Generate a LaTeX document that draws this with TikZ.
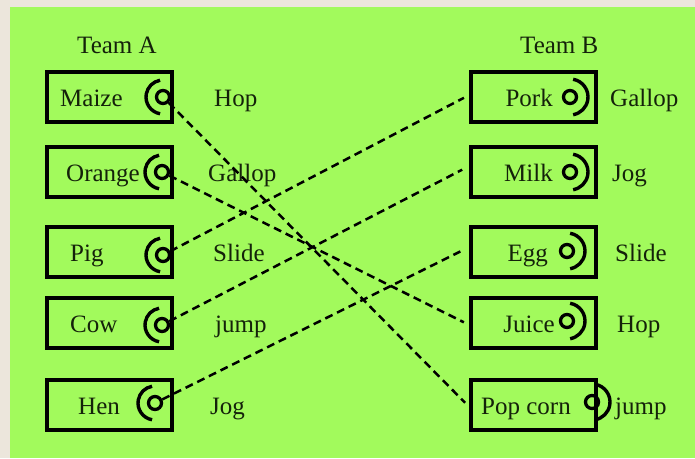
\documentclass[tikz,border=0pt]{standalone}
\usepackage{fontspec}
\setmainfont{Liberation Serif}
\definecolor{bgc}{RGB}{236,230,220}
\definecolor{grn}{RGB}{162,250,92}
\definecolor{ink}{RGB}{20,34,10}
\tikzset{
  box/.style={draw=black, line width=3.4pt, minimum width=125pt, minimum height=50pt, inner sep=0pt},
  txt/.style={text=ink, font=\fontsize{25}{28}\selectfont, inner sep=0pt},
  ring/.style={circle, draw=black, line width=3.3pt, minimum size=13pt, inner sep=0pt},
  bow/.style={draw=black, line width=3.4pt},
  link/.style={draw=black, line width=2.5pt, dash pattern=on 8pt off 5pt},
}
\begin{document}
\begin{tikzpicture}[x=1pt,y=-1pt]
\fill[bgc] (0,0) rectangle (695,458);
\fill[grn] (10,7) rectangle (695,458);
\useasboundingbox (0,0) rectangle (695,458);

% headers
\node[txt, anchor=base west] (hA) at (77,53) {Team A};
\node[txt, anchor=base west] (hB) at (520,53) {Team B};

% left boxes
\node[box] (a1) at (109.5,97) {};
\node[box] (a2) at (109.5,172) {};
\node[box] (a3) at (109.5,252) {};
\node[box] (a4) at (109.5,323) {};
\node[box] (a5) at (109.5,405) {};
% right boxes
\node[box] (b1) at (533.5,97) {};
\node[box] (b2) at (533.5,172) {};
\node[box] (b3) at (533.5,252) {};
\node[box] (b4) at (533.5,323) {};
\node[box] (b5) at (533.5,405) {};

% box texts
\node[txt, anchor=base west] (ta1) at (60,106) {Maize};
\node[txt, anchor=base west] (ta2) at (66,181) {Orange};
\node[txt, anchor=base west] (ta3) at (70,261) {Pig};
\node[txt, anchor=base west] (ta4) at (70,332) {Cow};
\node[txt, anchor=base west] (ta5) at (78,414) {Hen};
\node[txt, anchor=base east] (tb1) at (553,106) {Pork};
\node[txt, anchor=base east] (tb2) at (553,181) {Milk};
\node[txt, anchor=base east] (tb3) at (548,261) {Egg};
\node[txt, anchor=base east] (tb4) at (555,332) {Juice};
\node[txt, anchor=base west] (tb5) at (481,414) {Pop corn};

% action labels
\node[txt, anchor=base west] (la1) at (214,106) {Hop};
\node[txt, anchor=base west] (la2) at (208,181) {Gallop};
\node[txt, anchor=base west] (la3) at (213,261) {Slide};
\node[txt, anchor=base west] (la4) at (215,332) {jump};
\node[txt, anchor=base west] (la5) at (210,414) {Jog};
\node[txt, anchor=base west] (lb1) at (610,106) {Gallop};
\node[txt, anchor=base west] (lb2) at (612,181) {Jog};
\node[txt, anchor=base west] (lb3) at (615,261) {Slide};
\node[txt, anchor=base west] (lb4) at (617,332) {Hop};
\node[txt, anchor=base west] (lb5) at (615,414) {jump};

% left icons
\node[ring] (ca1) at (163,97) {};
\node[ring] (ca2) at (162,172) {};
\node[ring] (ca3) at (163,255) {};
\node[ring] (ca4) at (162,325) {};
\node[ring] (ca5) at (155,403) {};
\foreach \c in {ca1,ca2,ca3,ca4,ca5} {
  \draw[bow] (\c.center) ++(100:17) arc[start angle=100, end angle=260, radius=17];
}

% right icons
\node[ring] (cb1) at (570,97) {};
\node[ring] (cb2) at (570,172) {};
\node[ring] (cb3) at (567,251) {};
\node[ring] (cb4) at (567,321) {};
\node[ring] (cb5) at (592,402) {};
\foreach \c in {cb1,cb2,cb3,cb4,cb5} {
  \draw[bow] (\c.center) ++(-80:18) arc[start angle=-80, end angle=80, radius=18];
}

% connectors
\draw[link, shorten >=6pt] (ca1) -- ([yshift=-2pt]b5.west);
\draw[link, shorten >=6pt] (ca2) -- ([yshift=-2pt]b4.west);
\draw[link, shorten >=6pt] (ca3) -- ([yshift=2pt]b1.west);
\draw[link, shorten >=8pt] (ca4) -- ([yshift=6pt]b2.west);
\draw[link, shorten >=10pt] (ca5) -- ([yshift=5pt]b3.west);
\end{tikzpicture}
\end{document}
